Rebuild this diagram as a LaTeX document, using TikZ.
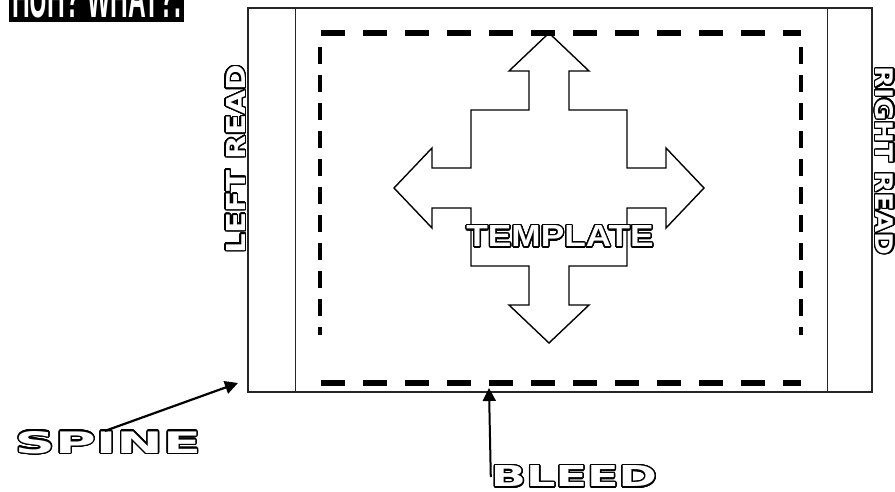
\documentclass[tikz,border=0pt]{standalone}
\usepackage{fontspec}
\setmainfont{Liberation Sans}
\newfontfamily\widefont{DejaVu Sans}
\usepackage[copies]{contour}
\contourlength{1.4pt}
\contournumber{24}
\usetikzlibrary{arrows.meta,%
                positioning}
\newcommand{\hollow}[3]{\textcolor{white}{\contour{black}{\resizebox{#1}{#2}{#3}}}}

\begin{document}
\begin{tikzpicture}[x=1pt,y=-1pt,
  edge/.style={line width=1.2pt,draw=black!85},
  bleedline/.style={line width=5.5pt,dash pattern=on 24pt off 18pt},
  bleedside/.style={line width=4pt,dash pattern=on 17pt off 11pt},
  pointer/.style={line width=2.2pt,-{Triangle[length=13pt,width=13pt]}},
  tag/.style={inner sep=0pt,font=\widefont\bfseries}]
\clip (0,0) rectangle (895,491);
\useasboundingbox (0,0) rectangle (895,491);
%\draw[help lines] (0,0) grid (895,491);
\node[fill=black,text=white,inner xsep=3pt,inner ysep=3.5pt,anchor=south west] (huh) at (9,22)
  {\resizebox{169pt}{40pt}{\bfseries HUH? WHAT?.}};
\draw[edge] (248,8) rectangle (872,392);
\draw[edge,line width=0.9pt] (295,8) -- (295,392);
\draw[edge,line width=0.9pt] (827,8) -- (827,392);
\draw[bleedline] (321,33) -- (801,33);
\draw[bleedline] (321,383) -- (801,383);
\draw[bleedside] (320,47) -- (320,335);
\draw[bleedside] (801,47) -- (801,335);
\begin{scope}[shift={(549,188)}]
\draw[line width=1.4pt,line join=miter]
  (0,-155) -- (40,-117) -- (20,-117) -- (20,-78) -- (78,-78) -- (78,-20)
  -- (117,-20) -- (117,-40) -- (155,0) -- (117,40) -- (117,20) -- (78,20)
  -- (78,78) -- (20,78) -- (20,117) -- (40,117) -- (0,155) -- (-40,117)
  -- (-20,117) -- (-20,78) -- (-78,78) -- (-78,20) -- (-117,20) -- (-117,40)
  -- (-155,0) -- (-117,-40) -- (-117,-20) -- (-78,-20) -- (-78,-78)
  -- (-20,-78) -- (-20,-117) -- (-40,-117) -- cycle;
\end{scope}
\node[tag,font=\bfseries] (template) at (560,237) {\hollow{187pt}{21pt}{TEMPLATE}};
\node[tag,rotate=90] (leftread) at (236.5,159) {\hollow{188pt}{19pt}{LEFT READ}};
\node[tag,rotate=-90] (rightread) at (884,161) {\hollow{188pt}{18pt}{RIGHT READ}};
\node[tag] (spine) at (108,443) {\hollow{186pt}{22pt}{SPINE}};
\node[tag] (bleed) at (574,477) {\hollow{166pt}{21pt}{BLEED}};
\coordinate (spinetip) at (238,383);
\coordinate (bleedtip) at (489,388);
\draw[pointer] ([xshift=-3pt]spine.north) -- (spinetip);
\draw[pointer,line width=2pt] (bleed.west) -- (bleedtip);
\end{tikzpicture}
\end{document}
